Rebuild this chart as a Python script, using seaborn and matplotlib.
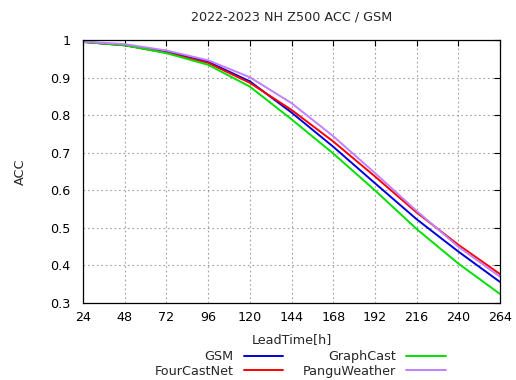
import matplotlib
matplotlib.use("Agg")
import matplotlib.pyplot as plt
import pandas as pd
import seaborn as sns

lead_time = [24, 48, 72, 96, 120, 144, 168, 192, 216, 240, 264]
gsm = [0.995, 0.986, 0.969, 0.942, 0.890, 0.807, 0.716, 0.619, 0.523, 0.437, 0.356]
fourcastnet = [0.995, 0.986, 0.966, 0.939, 0.886, 0.814, 0.730, 0.637, 0.541, 0.455, 0.377]
graphcast = [0.995, 0.986, 0.965, 0.934, 0.876, 0.789, 0.698, 0.600, 0.497, 0.405, 0.324]
panguweather = [0.996, 0.989, 0.972, 0.946, 0.901, 0.832, 0.744, 0.646, 0.545, 0.450, 0.370]

models = ["GSM", "FourCastNet", "GraphCast", "PanguWeather"]
colors = ["#0000dd", "#ff0000", "#00e000", "#c080ff"]

# long format for seaborn
frames = []
for name, vals in zip(models, [gsm, fourcastnet, graphcast, panguweather]):
    frames.append(pd.DataFrame({"LeadTime": lead_time, "ACC": vals, "model": name}))
df = pd.concat(frames, ignore_index=True)

sns.set_theme(style="white")
plt.rcParams["font.family"] = ["DejaVu Sans"]
fs = 9.2

fig = plt.figure(figsize=(5.16, 3.80), dpi=100)
ax = fig.add_axes([83 / 516, 1 - 303 / 380, (500 - 83) / 516, (303 - 40) / 380])

sns.lineplot(data=df, x="LeadTime", y="ACC", hue="model", hue_order=models,
             palette=colors, linewidth=1.4, ax=ax, legend=False)

ax.set_xlim(24, 264)
ax.set_ylim(0.3, 1.0)
ax.set_xticks(lead_time)
ax.set_yticks([0.3, 0.4, 0.5, 0.6, 0.7, 0.8, 0.9, 1.0])
ax.set_yticklabels(["0.3", "0.4", "0.5", "0.6", "0.7", "0.8", "0.9", "1"])
ax.tick_params(direction="in", length=4, width=0.8, top=True, right=True,
               labelsize=fs, colors="black")
ax.tick_params(axis="x", pad=6)
ax.tick_params(axis="y", pad=9)
ax.grid(True, color="#a0a0a0", linestyle=(0, (1.5, 2.5)), linewidth=0.8)
for sp in ax.spines.values():
    sp.set_color("black")
    sp.set_linewidth(0.9)

ax.set_xlabel("LeadTime[h]", fontsize=fs, labelpad=6)
ax.set_ylabel("ACC", fontsize=fs, labelpad=17)
ax.set_title("2022-2023 NH Z500 ACC / GSM", fontsize=fs, pad=14)

handles = [plt.Line2D([], [], color=c, linewidth=1.4) for c in colors]
fig.legend(handles, models, loc="center", bbox_to_anchor=(300 / 516, 1 - 364 / 380),
           ncol=2, frameon=False, markerfirst=False, fontsize=fs,
           handlelength=3.1, handletextpad=0.8, columnspacing=1.5,
           labelspacing=0.15, borderpad=0)

fig.savefig("out.png", dpi=100)
